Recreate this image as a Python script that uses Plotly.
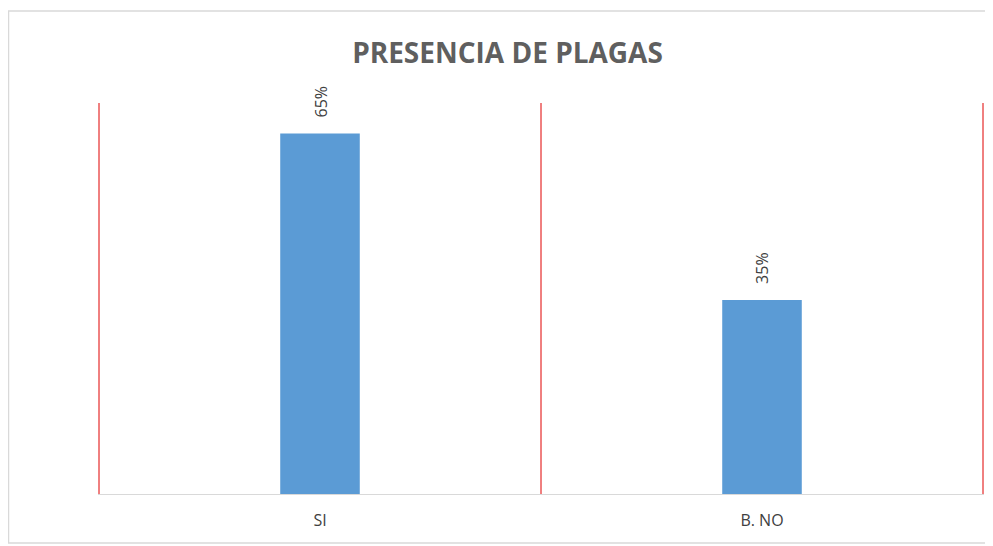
import plotly.graph_objects as go

categories = ["SI", "B. NO"]
values = [65, 35]
labels = ["65%", "35%"]

# page has an 8px body margin; figure coords = page coords - 8
OFF = 8
W, H = 993 - OFF, 546 - OFF
L, T = 98 - OFF, 103 - OFF
R = W - (984 - OFF)
B = H - (494 - OFF)
pw, ph = W - L - R, H - T - B
D = 1.0 / (pw / 2.0)  # 1px padding (in data units) so edge lines are not clipped

def px(xp):  # page x -> paper x
    return (xp - OFF - L) / pw

def py(yp):  # page y -> paper y
    return ((H - B) - (yp - OFF)) / ph

xs = list(range(len(categories)))

fig = go.Figure()
fig.add_trace(go.Bar(
    x=xs, y=values, width=0.18,
    marker=dict(color="#5B9BD5", line=dict(width=0)),
    hoverinfo="skip",
))
for x, v, t in zip(xs, values, labels):
    fig.add_annotation(x=x, y=v, text=t, textangle=-90, showarrow=False,
                       yanchor="bottom", yshift=14,
                       font=dict(family="Open Sans", size=16, color="#404040"))

# category boundary lines (red)
for b in [xs[0] - 0.5] + [x + 0.5 for x in xs]:
    fig.add_shape(type="line", xref="x", yref="paper", x0=b, x1=b, y0=0, y1=1,
                  line=dict(color="#e00000", width=1))

# outer chart border
fig.add_shape(type="rect", xref="paper", yref="paper",
              x0=px(8.5), x1=px(1000), y0=py(543), y1=py(11),
              line=dict(color="#d9d9d9", width=1.5), layer="below")

fig.update_layout(
    width=W, height=H,
    margin=dict(l=L, r=R, t=T, b=B),
    paper_bgcolor="white", plot_bgcolor="white",
    showlegend=False,
    title=dict(text="<b>PRESENCIA DE PLAGAS</b>", x=px(507.5), xref="paper", xanchor="center",
               y=1 - (53 - OFF) / H, yanchor="middle",
               font=dict(family="Open Sans", size=28, color="#5f5f5f")),
    xaxis=dict(range=[-0.5 - D, 1.5 + D], tickvals=xs, ticktext=categories,
               showgrid=False, zeroline=False,
               showline=True, linecolor="#d9d9d9", linewidth=1,
               ticks="", tickfont=dict(family="Open Sans", size=16, color="#404040"),
               ticklabelstandoff=12),
    yaxis=dict(range=[0, 70.5], visible=False, showgrid=False, zeroline=False),
)
fig.write_html("out.html")
